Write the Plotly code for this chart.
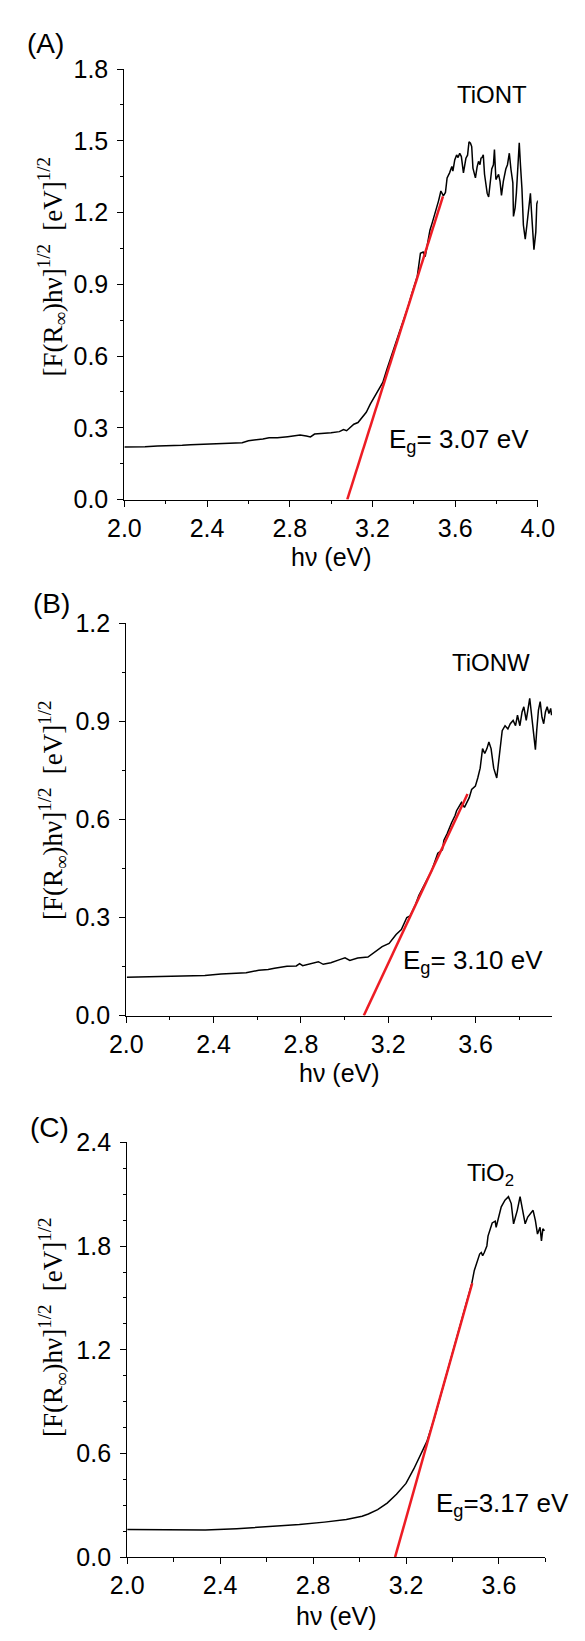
import plotly.graph_objects as go

W, H = 585, 1641

# ---------------- data ----------------
a_x = [2.00, 2.05, 2.10, 2.16, 2.22, 2.28, 2.32, 2.38, 2.44, 2.47, 2.52, 2.57, 2.60, 2.64, 2.67, 2.70,
       2.74, 2.79, 2.82, 2.85, 2.88, 2.90, 2.92, 2.96, 3.00, 3.04, 3.06, 3.075, 3.09, 3.11, 3.13, 3.15,
       3.17, 3.19, 3.21, 3.23, 3.25, 3.27, 3.29, 3.31, 3.33, 3.35, 3.37, 3.39, 3.405, 3.417, 3.432, 3.445,
       3.455, 3.465, 3.478, 3.49, 3.50, 3.511, 3.52, 3.531, 3.543, 3.553, 3.561, 3.573, 3.584, 3.589,
       3.598, 3.607, 3.614, 3.622, 3.63, 3.64, 3.652, 3.66, 3.667, 3.674, 3.68, 3.686, 3.698, 3.706,
       3.713, 3.72, 3.725, 3.73, 3.736, 3.742, 3.748, 3.755, 3.762, 3.77, 3.777, 3.785, 3.79, 3.797,
       3.803, 3.81, 3.817, 3.824, 3.833, 3.845, 3.853, 3.862, 3.87, 3.879, 3.882, 3.89, 3.896, 3.903,
       3.91, 3.916, 3.923, 3.93, 3.939, 3.947, 3.956, 3.964, 3.968, 3.973, 3.981, 3.99, 3.995, 4.0]
a_y = [0.220, 0.219, 0.221, 0.224, 0.224, 0.227, 0.229, 0.231, 0.233, 0.236, 0.236, 0.238, 0.246, 0.249, 0.253, 0.258,
       0.258, 0.263, 0.265, 0.270, 0.266, 0.262, 0.274, 0.276, 0.279, 0.284, 0.293, 0.288, 0.300, 0.315, 0.322, 0.345,
       0.365, 0.400, 0.430, 0.460, 0.490, 0.545, 0.600, 0.650, 0.700, 0.750, 0.800, 0.860, 0.900, 0.934, 1.030, 1.035,
       1.016, 1.070, 1.126, 1.160, 1.188, 1.215, 1.250, 1.290, 1.270, 1.284, 1.345, 1.366, 1.393, 1.373,
       1.420, 1.441, 1.430, 1.448, 1.434, 1.366, 1.427, 1.440, 1.496, 1.490, 1.476, 1.386, 1.345, 1.390,
       1.414, 1.400, 1.427, 1.430, 1.441, 1.360, 1.318, 1.280, 1.265, 1.330, 1.382, 1.400, 1.463, 1.338,
       1.350, 1.360, 1.330, 1.272, 1.330, 1.382, 1.400, 1.448, 1.380, 1.324, 1.184, 1.220, 1.280, 1.400,
       1.492, 1.397, 1.300, 1.148, 1.089, 1.148, 1.236, 1.280, 1.220, 1.148, 1.045, 1.118, 1.236, 1.250]
a_fit_x = [3.078, 3.541]
a_fit_y = [0.0, 1.268]

b_x = [2.003, 2.07, 2.147, 2.22, 2.29, 2.36, 2.434, 2.50, 2.549, 2.607, 2.65, 2.679, 2.736, 2.779, 2.794,
       2.808, 2.866, 2.88, 2.902, 2.937, 2.981, 3.002, 3.024, 3.06, 3.107, 3.14, 3.172, 3.204, 3.236,
       3.26, 3.285, 3.30, 3.325, 3.34, 3.349, 3.37, 3.398, 3.427, 3.448, 3.455, 3.47, 3.49, 3.506, 3.513,
       3.535, 3.549, 3.571, 3.582, 3.599, 3.61, 3.621, 3.632, 3.642, 3.652, 3.661, 3.671, 3.683, 3.697,
       3.711, 3.722, 3.735, 3.748, 3.759, 3.772, 3.783, 3.792, 3.803, 3.813, 3.821, 3.832, 3.848, 3.858,
       3.867, 3.874, 3.88, 3.888, 3.896, 3.904, 3.912, 3.92, 3.928, 3.936, 3.944, 3.948]
b_y = [0.117, 0.118, 0.120, 0.119, 0.120, 0.123, 0.127, 0.128, 0.131, 0.139, 0.141, 0.145, 0.151, 0.152, 0.159,
       0.153, 0.162, 0.165, 0.157, 0.162, 0.172, 0.177, 0.169, 0.176, 0.179, 0.195, 0.211, 0.221, 0.248,
       0.263, 0.300, 0.305, 0.340, 0.367, 0.379, 0.405, 0.442, 0.497, 0.507, 0.537, 0.557, 0.590, 0.612, 0.627,
       0.652, 0.637, 0.667, 0.692, 0.702, 0.727, 0.757, 0.817, 0.802, 0.817, 0.837, 0.817, 0.757, 0.727,
       0.814, 0.872, 0.887, 0.877, 0.893, 0.903, 0.887, 0.919, 0.887, 0.929, 0.945, 0.903, 0.971, 0.913,
       0.861, 0.814, 0.872, 0.935, 0.961, 0.913, 0.893, 0.929, 0.945, 0.924, 0.940, 0.919]
b_fit_x = [3.088, 3.563]
b_fit_y = [0.0, 0.678]

c_x = [2.0, 2.10, 2.201, 2.336, 2.471, 2.606, 2.741, 2.849, 2.943, 3.011, 3.038, 3.078, 3.119, 3.159,
       3.20, 3.234, 3.26, 3.29, 3.321, 3.362, 3.404, 3.446, 3.483, 3.494, 3.507, 3.517, 3.524, 3.53,
       3.537, 3.548, 3.553, 3.562, 3.571, 3.584, 3.588, 3.61, 3.626, 3.641, 3.653, 3.663, 3.671, 3.679,
       3.691, 3.701, 3.713, 3.724, 3.734, 3.747, 3.757, 3.766, 3.777, 3.783, 3.789, 3.796]
c_y = [0.161, 0.159, 0.157, 0.157, 0.165, 0.176, 0.189, 0.203, 0.218, 0.237, 0.250, 0.275, 0.313, 0.364,
       0.427, 0.512, 0.588, 0.670, 0.800, 1.000, 1.200, 1.400, 1.583, 1.659, 1.716, 1.754, 1.763, 1.745,
       1.763, 1.801, 1.858, 1.896, 1.934, 1.944, 1.909, 2.027, 2.066, 2.086, 2.046, 1.929, 1.968, 2.007,
       2.086, 2.007, 1.929, 1.968, 1.987, 2.007, 1.948, 1.870, 1.909, 1.830, 1.900, 1.889]
c_fit_x = [3.153, 3.485]
c_fit_y = [0.0, 1.585]

panel_labels = ["(A)", "(B)", "(C)"]
sample_names = ["TiONT", "TiONW", "TiO<sub>2</sub>"]
gap_texts = ["E<sub>g</sub>= 3.07 eV", "E<sub>g</sub>= 3.10 eV", "E<sub>g</sub>=3.17 eV"]

# ---------------- layout helpers ----------------
def px_x(p):
    return p / W

def px_y(p):
    return 1 - p / H

SANS = "Arial, Liberation Sans, sans-serif"
SERIF = "Times New Roman, Liberation Serif, serif"
RED = "rgb(237,28,36)"

# plot areas in pixels: (left, right, top, bottom)
areas = [(114, 553, 56, 494), (116, 568, 620, 1019), (117, 561, 1148, 1570)]
xranges = [[2.0, 4.0], [2.0, 3.95], [2.0, 3.8]]
yranges = [[0.0, 1.8], [0.0, 1.2], [0.0, 2.4]]
ydticks = [0.3, 0.3, 0.6]

fig = go.Figure()
series = [(a_x, a_y, a_fit_x, a_fit_y), (b_x, b_y, b_fit_x, b_fit_y), (c_x, c_y, c_fit_x, c_fit_y)]
for i, (sx, sy, fx, fy) in enumerate(series):
    xa = "x" if i == 0 else f"x{i+1}"
    ya = "y" if i == 0 else f"y{i+1}"
    fig.add_trace(go.Scatter(x=sx, y=sy, mode="lines", line=dict(color="black", width=1.5),
                             xaxis=xa, yaxis=ya, showlegend=False))
    fig.add_trace(go.Scatter(x=fx, y=fy, mode="lines", line=dict(color=RED, width=2.5),
                             xaxis=xa, yaxis=ya, showlegend=False))

layout = dict(width=W, height=H, margin=dict(l=0, r=0, t=0, b=0),
              paper_bgcolor="white", plot_bgcolor="white", showlegend=False)

axis_common = dict(showline=True, linecolor="black", linewidth=1.2, mirror=False,
                   showgrid=False, zeroline=False, ticks="outside", ticklen=6,
                   tickwidth=1.2, tickcolor="black",
                   tickfont=dict(family=SANS, size=25, color="black"),
                   tickformat=".1f")

annotations = []
for i, (l, r, t, b) in enumerate(areas):
    sfx = "" if i == 0 else str(i + 1)
    layout["xaxis" + sfx] = dict(axis_common, domain=[px_x(l), px_x(r)], range=xranges[i],
                                 dtick=0.4, tick0=2.0, anchor="y" + sfx,
                                 minor=dict(dtick=0.2, ticks="outside", ticklen=3.5,
                                            tickwidth=1.2, tickcolor="black"))
    layout["yaxis" + sfx] = dict(axis_common, domain=[px_y(b), px_y(t)], range=yranges[i],
                                 dtick=ydticks[i], tick0=0, anchor="x" + sfx,
                                 ticklabelstandoff=4,
                                 minor=dict(dtick=0.15, ticks="outside", ticklen=3.5,
                                            tickwidth=1.2, tickcolor="black"))

# panel letters
for lab, (cx, cy) in zip(panel_labels, [(30, 30), (37, 600), (34, 1133)]):
    annotations.append(dict(text=lab, xref="paper", yref="paper", x=px_x(cx), y=px_y(cy),
                            xanchor="center", yanchor="middle", showarrow=False,
                            font=dict(family=SANS, size=28, color="black")))

# x titles
for (cx, cy) in [(333.5, 552), (342, 1077), (339, 1630)]:
    annotations.append(dict(text="h\u03bd (eV)", xref="paper", yref="paper", x=px_x(cx), y=px_y(cy),
                            xanchor="center", yanchor="middle", showarrow=False,
                            font=dict(family=SANS, size=25, color="black")))

# y titles
ytitle = "[F(R<sub>\u221e</sub>)h\u03bd]<sup>1/2</sup>  [eV]<sup>1/2</sup>"
for (cx, cy) in [(37, 257), (38, 810), (38, 1336)]:
    annotations.append(dict(text=ytitle, xref="paper", yref="paper", x=px_x(cx), y=px_y(cy),
                            xanchor="center", yanchor="middle", showarrow=False, textangle=-90,
                            font=dict(family=SERIF, size=27, color="black")))

# sample names and band gap labels (data coordinates)
name_pos = [(3.777, 1.693), (3.671, 1.0815), (3.565, 2.215)]
gap_pos = [(3.618, 0.245), (3.590, 0.165), (3.614, 0.305)]
for i in range(3):
    sfx = "" if i == 0 else str(i + 1)
    annotations.append(dict(text=sample_names[i], xref="x" + sfx, yref="y" + sfx,
                            x=name_pos[i][0], y=name_pos[i][1], xanchor="center", yanchor="middle",
                            showarrow=False, font=dict(family=SANS, size=24, color="black")))
    annotations.append(dict(text=gap_texts[i], xref="x" + sfx, yref="y" + sfx,
                            x=gap_pos[i][0], y=gap_pos[i][1], xanchor="center", yanchor="middle",
                            showarrow=False, font=dict(family=SANS, size=26, color="black")))

layout["annotations"] = annotations
fig.update_layout(**layout)
fig.write_html("out.html")
